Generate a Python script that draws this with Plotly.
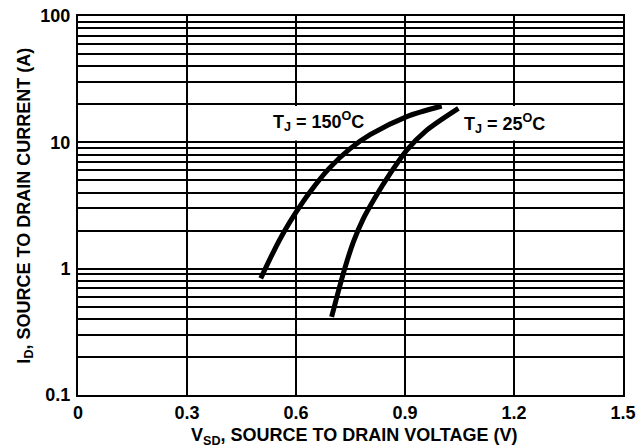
import plotly.graph_objects as go

# Data
v_150 = [0.503, 0.538, 0.570, 0.602, 0.638, 0.690, 0.749, 0.804, 0.905, 1.001]
i_150 = [0.838, 1.36, 2.02, 2.85, 4.03, 6.17, 8.91, 11.5, 16.0, 19.4]
v_25 = [0.698, 0.716, 0.735, 0.758, 0.785, 0.817, 0.859, 0.905, 0.960, 1.047]
i_25 = [0.416, 0.653, 1.023, 1.63, 2.48, 3.63, 5.65, 8.69, 12.5, 18.6]

x_ticks = [0, 0.3, 0.6, 0.9, 1.2, 1.5]
x_labels = ["0", "0.3", "0.6", "0.9", "1.2", "1.5"]
y_grid = [0.1, 0.2, 0.3, 0.4, 0.5, 0.6, 0.7, 0.8, 0.9,
          1, 2, 3, 4, 5, 6, 7, 8, 9,
          10, 20, 30, 40, 50, 60, 70, 80, 90, 100]
y_labeled = {0.1: "0.1", 1: "1", 10: "10", 100: "100"}
y_labels = [y_labeled.get(v, "") for v in y_grid]

FONT = "Liberation Sans, Arial, Helvetica, sans-serif"

fig = go.Figure()
fig.add_trace(go.Scatter(x=v_150, y=i_150, mode="lines",
                         line=dict(color="black", width=5, shape="spline", smoothing=0.8),
                         showlegend=False, hoverinfo="skip"))
fig.add_trace(go.Scatter(x=v_25, y=i_25, mode="lines",
                         line=dict(color="black", width=5, shape="spline", smoothing=0.8),
                         showlegend=False, hoverinfo="skip"))

# white label boxes (between gridlines and traces)
fig.add_shape(type="rect", xref="x", yref="y", x0=0.46, x1=0.772, y0=10.35, y1=19.4,
              fillcolor="white", line=dict(width=0), layer="between")
fig.add_shape(type="rect", xref="x", yref="y", x0=1.03, x1=1.31, y0=10.35, y1=19.4,
              fillcolor="white", line=dict(width=0), layer="between")

fig.add_annotation(x=0.661, y=1.161, xref="x", yref="y",
                   text="<b>T<sub>J</sub> = 150<sup>O</sup>C</b>", showarrow=False,
                   font=dict(family=FONT, size=18, color="black"))
fig.add_annotation(x=1.174, y=1.153, xref="x", yref="y",
                   text="<b>T<sub>J</sub> = 25<sup>O</sup>C</b>", showarrow=False,
                   font=dict(family=FONT, size=18, color="black"))

# axis titles
fig.add_annotation(x=0.508, y=0, xref="paper", yref="paper", xanchor="center", yanchor="top",
                   yshift=-28, showarrow=False,
                   text="<b>V<sub>SD</sub>, SOURCE TO DRAIN VOLTAGE (V)</b>",
                   font=dict(family=FONT, size=18, color="black"))
fig.add_annotation(x=-0.097, y=0.5, xref="paper", yref="paper", xanchor="center", yanchor="middle",
                   textangle=-90, showarrow=False,
                   text="<b>I<sub>D</sub>, SOURCE TO DRAIN CURRENT (A)</b>",
                   font=dict(family=FONT, size=18, color="black"))

fig.update_layout(
    width=637, height=447,
    margin=dict(l=78, r=14, t=16, b=52),
    paper_bgcolor="white", plot_bgcolor="white",
    font=dict(family=FONT, size=18, color="black"),
)
fig.update_xaxes(
    range=[0, 1.5], tickmode="array", tickvals=x_ticks, ticktext=["<b>%s</b>" % t for t in x_labels],
    showgrid=True, gridcolor="black", gridwidth=1.5, zeroline=False,
    showline=True, linecolor="black", linewidth=2, mirror=True,
    ticks="", ticklen=0, automargin=False, ticklabeloverflow="allow",
)
fig.update_yaxes(
    type="log", range=[-1, 2], tickmode="array", tickvals=y_grid,
    ticktext=["<b>%s</b>" % t if t else "" for t in y_labels],
    showgrid=True, gridcolor="black", gridwidth=1.5, zeroline=False,
    showline=True, linecolor="black", linewidth=2, mirror=True,
    ticks="", ticklen=0, automargin=False, ticklabelstandoff=2, ticklabeloverflow="allow",
)

# remove the browser's default 8px body margin so the figure fills the window exactly
fig.write_html("out.html",
               config={"displayModeBar": False},
               post_script="document.body.style.margin='0';document.body.style.overflow='hidden';")
